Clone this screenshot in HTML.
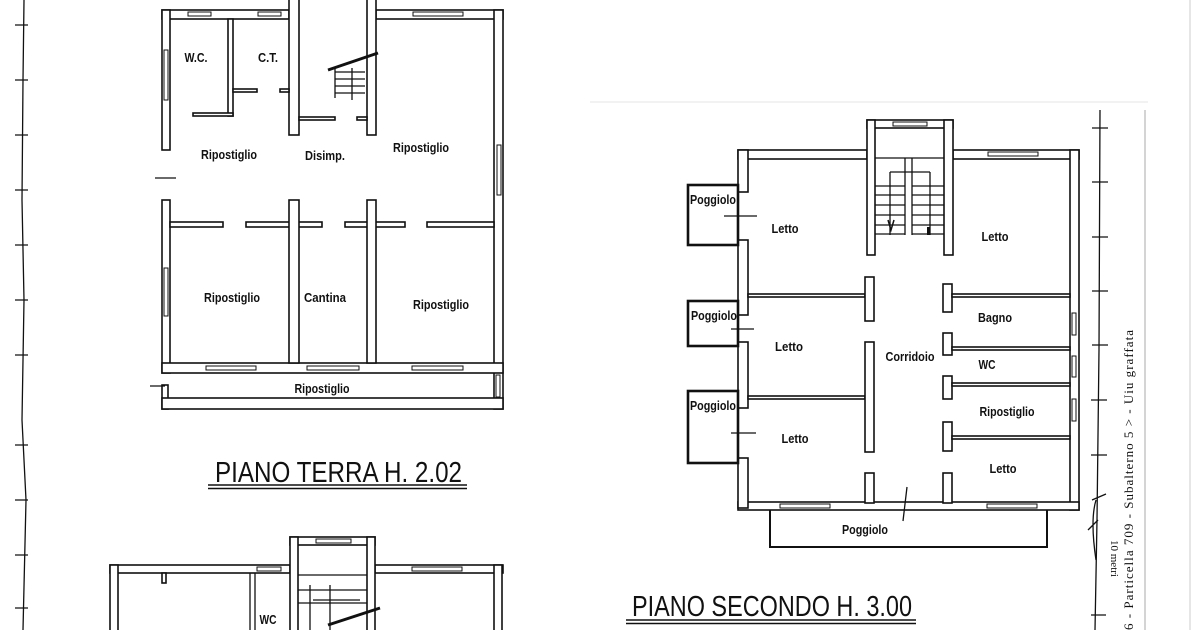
<!DOCTYPE html>
<html><head><meta charset="utf-8"><style>
html,body{margin:0;padding:0;background:#fff;}
svg{display:block;}
text{font-family:"Liberation Sans Narrow","Liberation Sans",sans-serif;fill:#111;}
.l{font-size:13px;font-weight:600;}
.w{fill:#fff;stroke:#111;stroke-width:1.6;}
.p{fill:none;stroke:#111;stroke-width:2.6;}
.t{stroke:#111;stroke-width:1.3;fill:none;}
.win{fill:#fff;stroke:#111;stroke-width:1;}
</style></head><body>
<svg width="1200" height="630" viewBox="0 0 1200 630" xmlns="http://www.w3.org/2000/svg">
<rect width="1200" height="630" fill="#fff"/>
<path d="M24 0 L23 80 L22 200 L24 300 L22 420 L26 500 L23 630" class="t" stroke-width="1.6"/>
<g class="t"><path d="M15 25H28M15 80H28M15 135H28M15 190H28M15 245H28M15 300H28M15 355H28M15 445H28M15 500H28M15 555H28M15 608H28"/></g>
<path d="M590 102 H1148" stroke="#e4e4e4" stroke-width="1"/>
<path d="M1145 110 V630" stroke="#aaa" stroke-width="1"/>
<path d="M1190 0 V630" stroke="#ccc" stroke-width="1"/>
<path d="M1100 110 L1099 350 L1097 520 L1095 630" class="t"/>
<g class="t"><path d="M1092 128H1108M1092 182H1108M1092 237H1108M1092 291H1108M1092 345H1108M1091 400H1107M1091 455H1107M1091 615H1106"/></g>
<path d="M1092 500 L1106 494 M1088 530 L1098 520 M1096 500 Q1090 520 1096 560" class="t" stroke-width="1"/>
<text x="0" y="0" transform="translate(1111,540) rotate(90)" font-size="11" style="font-family:'Liberation Serif',serif">10 metri</text>
<text x="0" y="0" transform="translate(1133,630) rotate(-90)" font-size="13" style="font-family:'Liberation Serif',serif" textLength="300">6 - Particella  709 - Subalterno 5 &gt; - Uiu graffata</text>

<g>
<rect class="w" x="162" y="10" width="127" height="9"/>
<rect class="w" x="376" y="10" width="127" height="9"/>
<rect class="w" x="162" y="10" width="8" height="140"/>
<rect class="w" x="162" y="200" width="8" height="173"/>
<rect class="w" x="162" y="385" width="6" height="24"/>
<rect class="w" x="494" y="10" width="9" height="399"/>
<rect class="w" x="162" y="363" width="341" height="10"/>
<rect class="w" x="162" y="398" width="341" height="11"/>
<rect class="w" x="289" y="-2" width="10" height="137"/>
<rect class="w" x="367" y="-2" width="9" height="137"/>
<rect class="w" x="228" y="19" width="5" height="97"/>
<rect class="w" x="193" y="113" width="40" height="3"/>
<rect class="w" x="233" y="89" width="24" height="3"/>
<rect class="w" x="280" y="89" width="9" height="3"/>
<rect class="w" x="299" y="117" width="36" height="3"/>
<rect class="w" x="357" y="117" width="10" height="3"/>
<rect class="w" x="170" y="222" width="53" height="5"/>
<rect class="w" x="246" y="222" width="76" height="5"/>
<rect class="w" x="345" y="222" width="60" height="5"/>
<rect class="w" x="427" y="222" width="67" height="5"/>
<rect class="w" x="289" y="200" width="10" height="163"/>
<rect class="w" x="367" y="200" width="9" height="163"/>
<rect class="win" x="188" y="12" width="23" height="4"/>
<rect class="win" x="258" y="12" width="23" height="4"/>
<rect class="win" x="413" y="12" width="50" height="4"/>
<rect class="win" x="164" y="50" width="4" height="50"/>
<rect class="win" x="164" y="268" width="4" height="48"/>
<rect class="win" x="497" y="145" width="4" height="50"/>
<rect class="win" x="206" y="366" width="50" height="4"/>
<rect class="win" x="307" y="366" width="52" height="4"/>
<rect class="win" x="412" y="366" width="51" height="4"/>
<rect class="win" x="496" y="375" width="4" height="22"/>
<path class="t" d="M335 68 V98 M335 72 H365 M335 79 H365 M335 86 H365 M335 93 H365 M352 68 V100" />
<path d="M328 70 L378 53" stroke="#111" stroke-width="3"/>
<path d="M155 178 H176 M150 386 H165" class="t"/>
<text class="l" x="196" y="62" text-anchor="middle" textLength="23" lengthAdjust="spacingAndGlyphs">W.C.</text>
<text class="l" x="268" y="62" text-anchor="middle" textLength="20" lengthAdjust="spacingAndGlyphs">C.T.</text>
<text class="l" x="229" y="159" text-anchor="middle" textLength="56" lengthAdjust="spacingAndGlyphs">Ripostiglio</text>
<text class="l" x="325" y="160" text-anchor="middle" textLength="40" lengthAdjust="spacingAndGlyphs">Disimp.</text>
<text class="l" x="421" y="152" text-anchor="middle" textLength="56" lengthAdjust="spacingAndGlyphs">Ripostiglio</text>
<text class="l" x="232" y="302" text-anchor="middle" textLength="56" lengthAdjust="spacingAndGlyphs">Ripostiglio</text>
<text class="l" x="325" y="302" text-anchor="middle" textLength="42" lengthAdjust="spacingAndGlyphs">Cantina</text>
<text class="l" x="441" y="309" text-anchor="middle" textLength="56" lengthAdjust="spacingAndGlyphs">Ripostiglio</text>
<text class="l" x="322" y="393" text-anchor="middle" textLength="55" lengthAdjust="spacingAndGlyphs">Ripostiglio</text>
</g>
<text x="215" y="482" font-size="29" textLength="247" lengthAdjust="spacingAndGlyphs">PIANO TERRA H. 2.02</text>
<path d="M208 485 H467 M208 488.5 H467" stroke="#111" stroke-width="1.5"/>

<g>
<rect class="w" x="110" y="565" width="180" height="8"/>
<rect class="w" x="375" y="565" width="128" height="8"/>
<rect class="w" x="290" y="537" width="85" height="8"/>
<rect class="w" x="290" y="537" width="8" height="100"/>
<rect class="w" x="367" y="537" width="8" height="100"/>
<rect class="w" x="110" y="565" width="8" height="70"/>
<rect class="w" x="162" y="573" width="4" height="10"/>
<rect class="w" x="494" y="565" width="8" height="70"/>
<path class="t" d="M250 573 V630 M255 573 V630 M298 575 H367 M298 590 H367 M310 585 V630 M330 585 V630 M313 600 H360 M298 603 H367"/>
<rect class="win" x="316" y="539" width="35" height="4"/>
<rect class="win" x="412" y="567" width="50" height="4"/>
<rect class="win" x="257" y="567" width="24" height="4"/>
<path d="M328 625 L380 608" stroke="#111" stroke-width="3"/>
<text class="l" x="268" y="624" text-anchor="middle" textLength="17" lengthAdjust="spacingAndGlyphs">WC</text>
</g>

<g>
<rect class="w" x="738" y="150" width="129" height="9"/>
<rect class="w" x="953" y="150" width="126" height="9"/>
<rect class="w" x="867" y="120" width="86" height="8"/>
<rect class="w" x="867" y="120" width="8" height="135"/>
<rect class="w" x="944" y="120" width="9" height="135"/>
<rect class="w" x="1070" y="150" width="9" height="360"/>
<rect class="w" x="738" y="502" width="341" height="8"/>
<rect class="w" x="738" y="150" width="10" height="42"/>
<rect class="w" x="738" y="240" width="10" height="75"/>
<rect class="w" x="738" y="342" width="10" height="66"/>
<rect class="w" x="738" y="458" width="10" height="50"/>
<rect class="w" x="748" y="294" width="117" height="3"/>
<rect class="w" x="865" y="277" width="9" height="44"/>
<rect class="w" x="748" y="396" width="117" height="3"/>
<rect class="w" x="865" y="342" width="9" height="110"/>
<rect class="w" x="865" y="473" width="9" height="30"/>
<rect class="w" x="943" y="473" width="9" height="30"/>
<rect class="w" x="943" y="284" width="9" height="28"/>
<rect class="w" x="943" y="333" width="9" height="22"/>
<rect class="w" x="943" y="376" width="9" height="23"/>
<rect class="w" x="943" y="422" width="9" height="29"/>
<rect class="w" x="952" y="294" width="118" height="3"/>
<rect class="w" x="952" y="347" width="118" height="3"/>
<rect class="w" x="952" y="383" width="118" height="3"/>
<rect class="w" x="952" y="436" width="118" height="3"/>
<rect class="win" x="893" y="122" width="34" height="4"/>
<rect class="win" x="988" y="152" width="50" height="4"/>
<rect class="win" x="780" y="504" width="50" height="4"/>
<rect class="win" x="987" y="504" width="50" height="4"/>
<rect class="win" x="1072" y="313" width="4" height="22"/>
<rect class="win" x="1072" y="356" width="4" height="21"/>
<rect class="win" x="1072" y="399" width="4" height="22"/>
<rect class="p" x="688" y="185" width="50" height="60"/>
<rect class="p" x="688" y="301" width="50" height="45"/>
<rect class="p" x="688" y="391" width="50" height="72"/>
<path class="t" d="M724 216 H757 M731 329 H754 M731 433 H756 M907 487 L903 521"/>
<path d="M770 510 V547 H1047 V510" stroke="#111" stroke-width="2" fill="none"/>
<path class="t" d="M875 158 H944 M890 172 H930 M890 172 V235 M930 172 V235 M905 158 V235 M912 158 V235 M875 186 H905 M912 186 H944 M875 195 H905 M912 195 H944 M875 205 H905 M912 205 H944 M875 215 H905 M912 215 H944 M875 225 H905 M912 225 H944 M875 234 H905 M912 234 H944"/>
<path d="M888 220 L891 230 L894 220" stroke="#111" stroke-width="1.5" fill="none"/>
<rect x="927" y="227" width="3" height="8" fill="#111"/>
<text class="l" x="713" y="204" text-anchor="middle" textLength="46" lengthAdjust="spacingAndGlyphs">Poggiolo</text>
<text class="l" x="714" y="320" text-anchor="middle" textLength="46" lengthAdjust="spacingAndGlyphs">Poggiolo</text>
<text class="l" x="713" y="410" text-anchor="middle" textLength="46" lengthAdjust="spacingAndGlyphs">Poggiolo</text>
<text class="l" x="785" y="233" text-anchor="middle" textLength="27" lengthAdjust="spacingAndGlyphs">Letto</text>
<text class="l" x="789" y="351" text-anchor="middle" textLength="28" lengthAdjust="spacingAndGlyphs">Letto</text>
<text class="l" x="795" y="443" text-anchor="middle" textLength="27" lengthAdjust="spacingAndGlyphs">Letto</text>
<text class="l" x="995" y="241" text-anchor="middle" textLength="27" lengthAdjust="spacingAndGlyphs">Letto</text>
<text class="l" x="1003" y="473" text-anchor="middle" textLength="27" lengthAdjust="spacingAndGlyphs">Letto</text>
<text class="l" x="995" y="322" text-anchor="middle" textLength="34" lengthAdjust="spacingAndGlyphs">Bagno</text>
<text class="l" x="987" y="369" text-anchor="middle" textLength="17" lengthAdjust="spacingAndGlyphs">WC</text>
<text class="l" x="1007" y="416" text-anchor="middle" textLength="55" lengthAdjust="spacingAndGlyphs">Ripostiglio</text>
<text class="l" x="910" y="361" text-anchor="middle" textLength="49" lengthAdjust="spacingAndGlyphs">Corridoio</text>
<text class="l" x="865" y="534" text-anchor="middle" textLength="46" lengthAdjust="spacingAndGlyphs">Poggiolo</text>
</g>
<text x="632" y="616" font-size="29" textLength="280" lengthAdjust="spacingAndGlyphs">PIANO SECONDO H. 3.00</text>
<path d="M626 620 H916 M626 623.5 H916" stroke="#111" stroke-width="1.5"/>
</svg>
</body></html>
